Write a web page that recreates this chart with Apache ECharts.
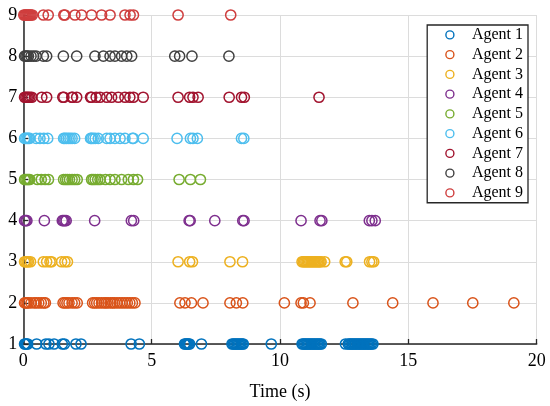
<!DOCTYPE html>
<html>
<head>
<meta charset="utf-8">
<script src="https://cdn.jsdelivr.net/npm/echarts@6/dist/echarts.min.js"></script>
<style>
  html, body { margin: 0; padding: 0; background: #fff; }
  #chart { width: 550px; height: 406px; }
</style>
</head>
<body>
<div id="chart"></div>
<script>
// event times (s), one list per agent
var agentNames = ['Agent 1', 'Agent 2', 'Agent 3', 'Agent 4', 'Agent 5', 'Agent 6', 'Agent 7', 'Agent 8', 'Agent 9'];
var agentColors = ['#0072BD', '#D95319', '#EDB120', '#7E2F8E', '#77AC30', '#4DBEEE', '#A2142F', '#404040', '#CF3E3E'];

var agent1 = [0.05, 0.09, 0.13, 0.17, 0.52, 0.88, 1.0, 1.2, 1.52, 1.6, 2.05, 2.25, 4.2, 4.52,
  6.28, 6.32, 6.36, 6.4, 6.44, 6.48, 6.94,
  8.13, 8.18, 8.23, 8.28, 8.33, 8.38, 8.43, 8.48, 8.53, 8.57, 9.66,
  10.86, 10.91, 10.96, 11.01, 11.06, 11.11, 11.16, 11.21, 11.26, 11.31, 11.36, 11.41, 11.46, 11.51, 11.56, 11.61,
  12.55, 12.66, 12.71, 12.76, 12.81, 12.86, 12.91, 12.96, 13.01, 13.06, 13.11, 13.16, 13.21, 13.26, 13.31, 13.36, 13.41, 13.46, 13.51, 13.56, 13.62];
var agent2 = [0.05, 0.1, 0.15, 0.2, 0.3, 0.42, 0.5, 0.6, 0.7, 0.8, 0.86,
  1.55, 1.62, 1.7, 1.78, 1.9, 2.0, 2.1,
  2.7, 2.78, 2.86, 2.95, 3.05, 3.15, 3.22, 3.3, 3.4, 3.48, 3.55, 3.65, 3.75, 3.85, 3.95, 4.05, 4.15, 4.25, 4.35,
  6.1, 6.3, 6.55, 7.0, 8.05, 8.3, 8.55,
  10.17, 10.82, 10.91, 11.17, 12.84, 14.39, 15.96, 17.51, 19.11];
var agent3 = [0.05, 0.1, 0.15, 0.2, 0.28, 0.78, 0.91, 1.04, 1.1, 1.49, 1.62, 1.72,
  6.03, 6.48, 6.59, 8.05, 8.54,
  10.86, 10.91, 10.96, 11.01, 11.06, 11.11, 11.16, 11.21, 11.26, 11.31, 11.36, 11.41, 11.46, 11.51, 11.56, 11.6, 11.74,
  12.54, 12.6, 13.49, 13.58, 13.65];
var agent4 = [0.05, 0.1, 0.14, 0.82, 1.52, 1.57, 1.62, 1.67, 2.78, 4.21, 4.3,
  6.46, 6.5, 7.46, 8.55, 8.6, 10.82, 11.56, 11.63, 13.48, 13.58, 13.71];
var agent5 = [0.05, 0.1, 0.15, 0.2, 0.25, 0.55, 0.7, 0.85, 0.98,
  1.57, 1.65, 1.72, 1.8, 1.9, 2.0, 2.1,
  2.66, 2.72, 2.8, 2.9, 2.99, 3.2, 3.38, 3.57, 3.83, 4.09, 4.29, 4.45,
  6.07, 6.51, 6.9];
var agent6 = [0.05, 0.1, 0.15, 0.2, 0.25, 0.5, 0.65, 0.8, 0.95,
  1.57, 1.62, 1.68, 1.75, 1.82, 1.9, 2.0,
  2.62, 2.66, 2.72, 2.8, 2.92, 3.25, 3.38, 3.57, 3.77, 3.96, 4.25, 4.29, 4.67,
  5.99, 6.51, 6.61, 6.78, 8.5, 8.59];
var agent7 = [0.05, 0.1, 0.15, 0.2, 0.26, 0.33, 0.72, 0.91, 1.54, 1.58, 1.89, 1.92, 2.08,
  2.62, 2.66, 2.84, 2.99, 3.25, 3.44, 3.7, 3.96, 4.15, 4.29, 4.67,
  6.03, 6.48, 6.61, 6.81, 8.02, 8.5, 8.61, 11.52];
var agent8 = [0.05, 0.1, 0.15, 0.2, 0.3, 0.4, 0.5, 0.78, 0.91, 1.56, 2.08,
  2.79, 3.12, 3.38, 3.57, 3.83, 4.03, 4.22,
  5.9, 6.09, 6.57, 8.01];
var agent9 = [0.02, 0.06, 0.1, 0.14, 0.18, 0.22, 0.26, 0.3, 0.35, 0.78, 0.97, 1.58, 1.62,
  2.01, 2.27, 2.66, 3.05, 3.38, 3.96, 4.16, 4.29, 6.03, 8.08];

var agentTimes = [agent1, agent2, agent3, agent4, agent5, agent6, agent7, agent8, agent9];

var xTicks = { min: 0, max: 20, interval: 5 };
var yTicks = { min: 1, max: 9, interval: 1 };

var chart = echarts.init(document.getElementById('chart'));
var serif = 'Liberation Serif, Times New Roman, serif';

var series = [];
for (var i = 0; i < agentTimes.length; i++) {
  var pts = [];
  for (var j = 0; j < agentTimes[i].length; j++) {
    pts.push([agentTimes[i][j], i + 1]);
  }
  series.push({
    name: agentNames[i],
    type: 'scatter',
    symbol: 'circle',
    symbolSize: 10.2,
    clip: false,
    itemStyle: {
      color: 'rgba(0,0,0,0)',
      borderColor: agentColors[i],
      borderWidth: 1.5,
      opacity: 1
    },
    emphasis: { disabled: true },
    data: pts
  });
}

var option = {
  animation: false,
  backgroundColor: '#fff',
  grid: { left: 23.3, right: 13.3, top: 15, bottom: 58 },
  legend: {
    orient: 'vertical',
    right: 22,
    top: 25,
    padding: [0, 5, 0, 18],
    itemGap: 0,
    itemWidth: 34,
    itemHeight: 8,
    icon: 'circle',
    backgroundColor: '#fff',
    borderColor: '#262626',
    borderWidth: 1.3,
    textStyle: { fontFamily: serif, fontSize: 16, color: '#000', lineHeight: 19.75 },
    data: agentNames.map(function (n, k) {
      return {
        name: n,
        itemStyle: { color: 'rgba(0,0,0,0)', borderColor: agentColors[k], borderWidth: 1.4 }
      };
    })
  },
  xAxis: {
    type: 'value',
    min: xTicks.min,
    max: xTicks.max,
    interval: xTicks.interval,
    name: 'Time (s)',
    nameLocation: 'middle',
    nameGap: 39,
    nameTextStyle: { fontFamily: serif, fontSize: 18, color: '#000' },
    axisLine: { show: true, onZero: false, lineStyle: { color: '#262626', width: 1.5 } },
    axisTick: { show: true, inside: true, length: 5, lineStyle: { color: '#262626', width: 1.3 } },
    axisLabel: { fontFamily: serif, fontSize: 18, color: '#000', margin: 8 },
    splitLine: { show: true, lineStyle: { color: '#dcdcdc', width: 1 } }
  },
  yAxis: {
    type: 'value',
    min: yTicks.min,
    max: yTicks.max,
    interval: yTicks.interval,
    axisLine: { show: true, onZero: false, lineStyle: { color: '#262626', width: 1.5 } },
    axisTick: { show: true, inside: true, length: 5, lineStyle: { color: '#262626', width: 1.3 } },
    axisLabel: { fontFamily: serif, fontSize: 18, color: '#000', margin: 6 },
    splitLine: { show: true, lineStyle: { color: '#dcdcdc', width: 1 } }
  },
  series: series
};

chart.setOption(option);
</script>
</body>
</html>
